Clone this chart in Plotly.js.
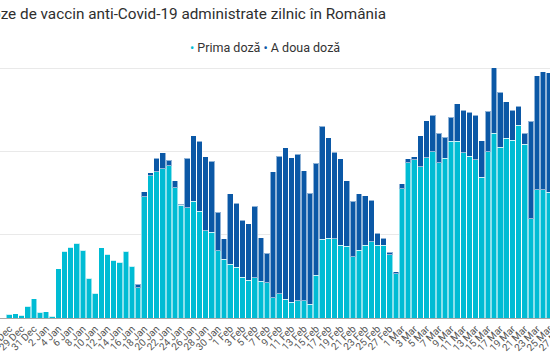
<!DOCTYPE html>
<html><head><meta charset="utf-8">
<script src="https://cdn.plot.ly/plotly-3.0.1.min.js"></script>
<style>
html,body{margin:0;padding:0;overflow:hidden;width:550px;height:362px;background:#fff}
#chart{position:absolute;left:-60px;top:0;width:680px;height:362px}
</style>
</head><body><div id="chart"></div>
<script>
const dates = [
'2020-12-27','2020-12-28','2020-12-29','2020-12-30','2020-12-31',
'2021-01-01','2021-01-02','2021-01-03','2021-01-04','2021-01-05','2021-01-06','2021-01-07','2021-01-08','2021-01-09','2021-01-10',
'2021-01-11','2021-01-12','2021-01-13','2021-01-14','2021-01-15','2021-01-16','2021-01-17','2021-01-18','2021-01-19','2021-01-20',
'2021-01-21','2021-01-22','2021-01-23','2021-01-24','2021-01-25','2021-01-26','2021-01-27','2021-01-28','2021-01-29','2021-01-30','2021-01-31',
'2021-02-01','2021-02-02','2021-02-03','2021-02-04','2021-02-05','2021-02-06','2021-02-07','2021-02-08','2021-02-09','2021-02-10',
'2021-02-11','2021-02-12','2021-02-13','2021-02-14','2021-02-15','2021-02-16','2021-02-17','2021-02-18','2021-02-19','2021-02-20',
'2021-02-21','2021-02-22','2021-02-23','2021-02-24','2021-02-25','2021-02-26','2021-02-27','2021-02-28',
'2021-03-01','2021-03-02','2021-03-03','2021-03-04','2021-03-05','2021-03-06','2021-03-07','2021-03-08','2021-03-09','2021-03-10',
'2021-03-11','2021-03-12','2021-03-13','2021-03-14','2021-03-15','2021-03-16','2021-03-17','2021-03-18','2021-03-19','2021-03-20',
'2021-03-21','2021-03-22','2021-03-23','2021-03-24','2021-03-25'
];
const primaDoza = [
880,1040,640,2810,4580,
1370,1530,400,11890,16060,16950,17990,16300,9560,5940,
16870,15260,13890,13410,16060,12450,7230,29150,34140,35180,
35820,36550,31330,27150,26510,28110,25700,20960,20640,16140,14140,
12930,12210,9800,9080,9640,8840,8510,4900,5860,4500,
3770,4180,4180,3290,10280,18880,19200,19040,17510,17270,
14700,16310,17510,18310,17430,17430,15180,10680,
31080,37270,38070,36390,38550,40000,37350,38390,42410,42410,
39680,38870,38070,33820,39920,44420,41040,43210,42730,46260,
41690,23860,30760,30760,30200
];
const aDouaDoza = [
0,0,0,0,0,
0,0,0,0,0,0,0,0,0,0,
0,0,0,0,0,0,880,1130,720,3210,
3940,1360,1680,240,11880,15670,16790,17840,17030,9240,4900,
16870,15340,13730,13570,17190,10440,7070,30200,33010,36380,
34780,35180,31160,26670,26910,27140,24170,20800,20720,15740,
13330,13570,11890,9960,2890,1690,560,480,
1130,960,640,7390,8840,8670,6990,5070,5860,9080,
10200,10610,10680,8830,9720,15660,13260,8760,7150,4660,
2730,23370,27390,28430,28670
];
const seriesNames = ['Prima doză', 'A doua doză'];
const titleText = 'Doze de vaccin anti-Covid-19 administrate zilnic în România';

const colPrima = '#00bcd4';
const colDoua = '#0b58a6';
const DAY = 86400000;
const pxPerDay = 6.136;
const plotW = 630;
const firstCenterOffset = 19.3;
const t0 = Date.parse(dates[0] + 'T00:00:00Z');
const xr0 = t0 - firstCenterOffset / pxPerDay * DAY;
const xr1 = xr0 + plotW / pxPerDay * DAY;

const barLine = {color: 'rgba(255,255,255,0.55)', width: 1};
const traces = [
  {type: 'bar', name: seriesNames[0], x: dates, y: primaDoza,
   marker: {color: colPrima, line: barLine}, showlegend: false},
  {type: 'bar', name: seriesNames[1], x: dates, y: aDouaDoza,
   marker: {color: colDoua, line: barLine}, showlegend: false}
];

const layout = {
  width: 680, height: 362,
  margin: {l: 50, r: 0, t: 64, b: 44, pad: 0},
  paper_bgcolor: '#fff', plot_bgcolor: '#fff',
  font: {family: 'Roboto, "Open Sans", sans-serif', color: '#444'},
  barmode: 'stack', bargap: 0.08,
  title: {text: titleText, font: {family: 'Roboto', size: 15.3, color: '#2e2e2e'},
          xref: 'container', x: 42 / 680, xanchor: 'left',
          yref: 'container', y: 1 - 8 / 362, yanchor: 'top'},
  xaxis: {type: 'date', range: [xr0, xr1], tick0: dates[0], dtick: 2 * DAY,
          tickformat: '%-d %b', tickangle: -45, tickfont: {size: 10, color: '#555'},
          showgrid: false, showline: true, linecolor: '#a8a8a8', linewidth: 1,
          ticks: '', fixedrange: true},
  yaxis: {range: [0, 61030], dtick: 20000, showgrid: true, gridcolor: '#e9e9e9',
          gridwidth: 1, zeroline: false, showticklabels: false, fixedrange: true},
  annotations: [{
    xref: 'paper', yref: 'paper', x: 275 / 630, y: (318 - 48) / 254,
    xanchor: 'center', yanchor: 'middle', showarrow: false,
    font: {family: 'Roboto', size: 12.5, color: '#333'},
    text: '<span style="color:' + colPrima + '">•</span> ' + seriesNames[0] +
          ' <span style="color:' + colDoua + '">•</span> ' + seriesNames[1]
  }]
};
Plotly.newPlot('chart', traces, layout, {displayModeBar: false, staticPlot: true});
</script>
</body></html>
